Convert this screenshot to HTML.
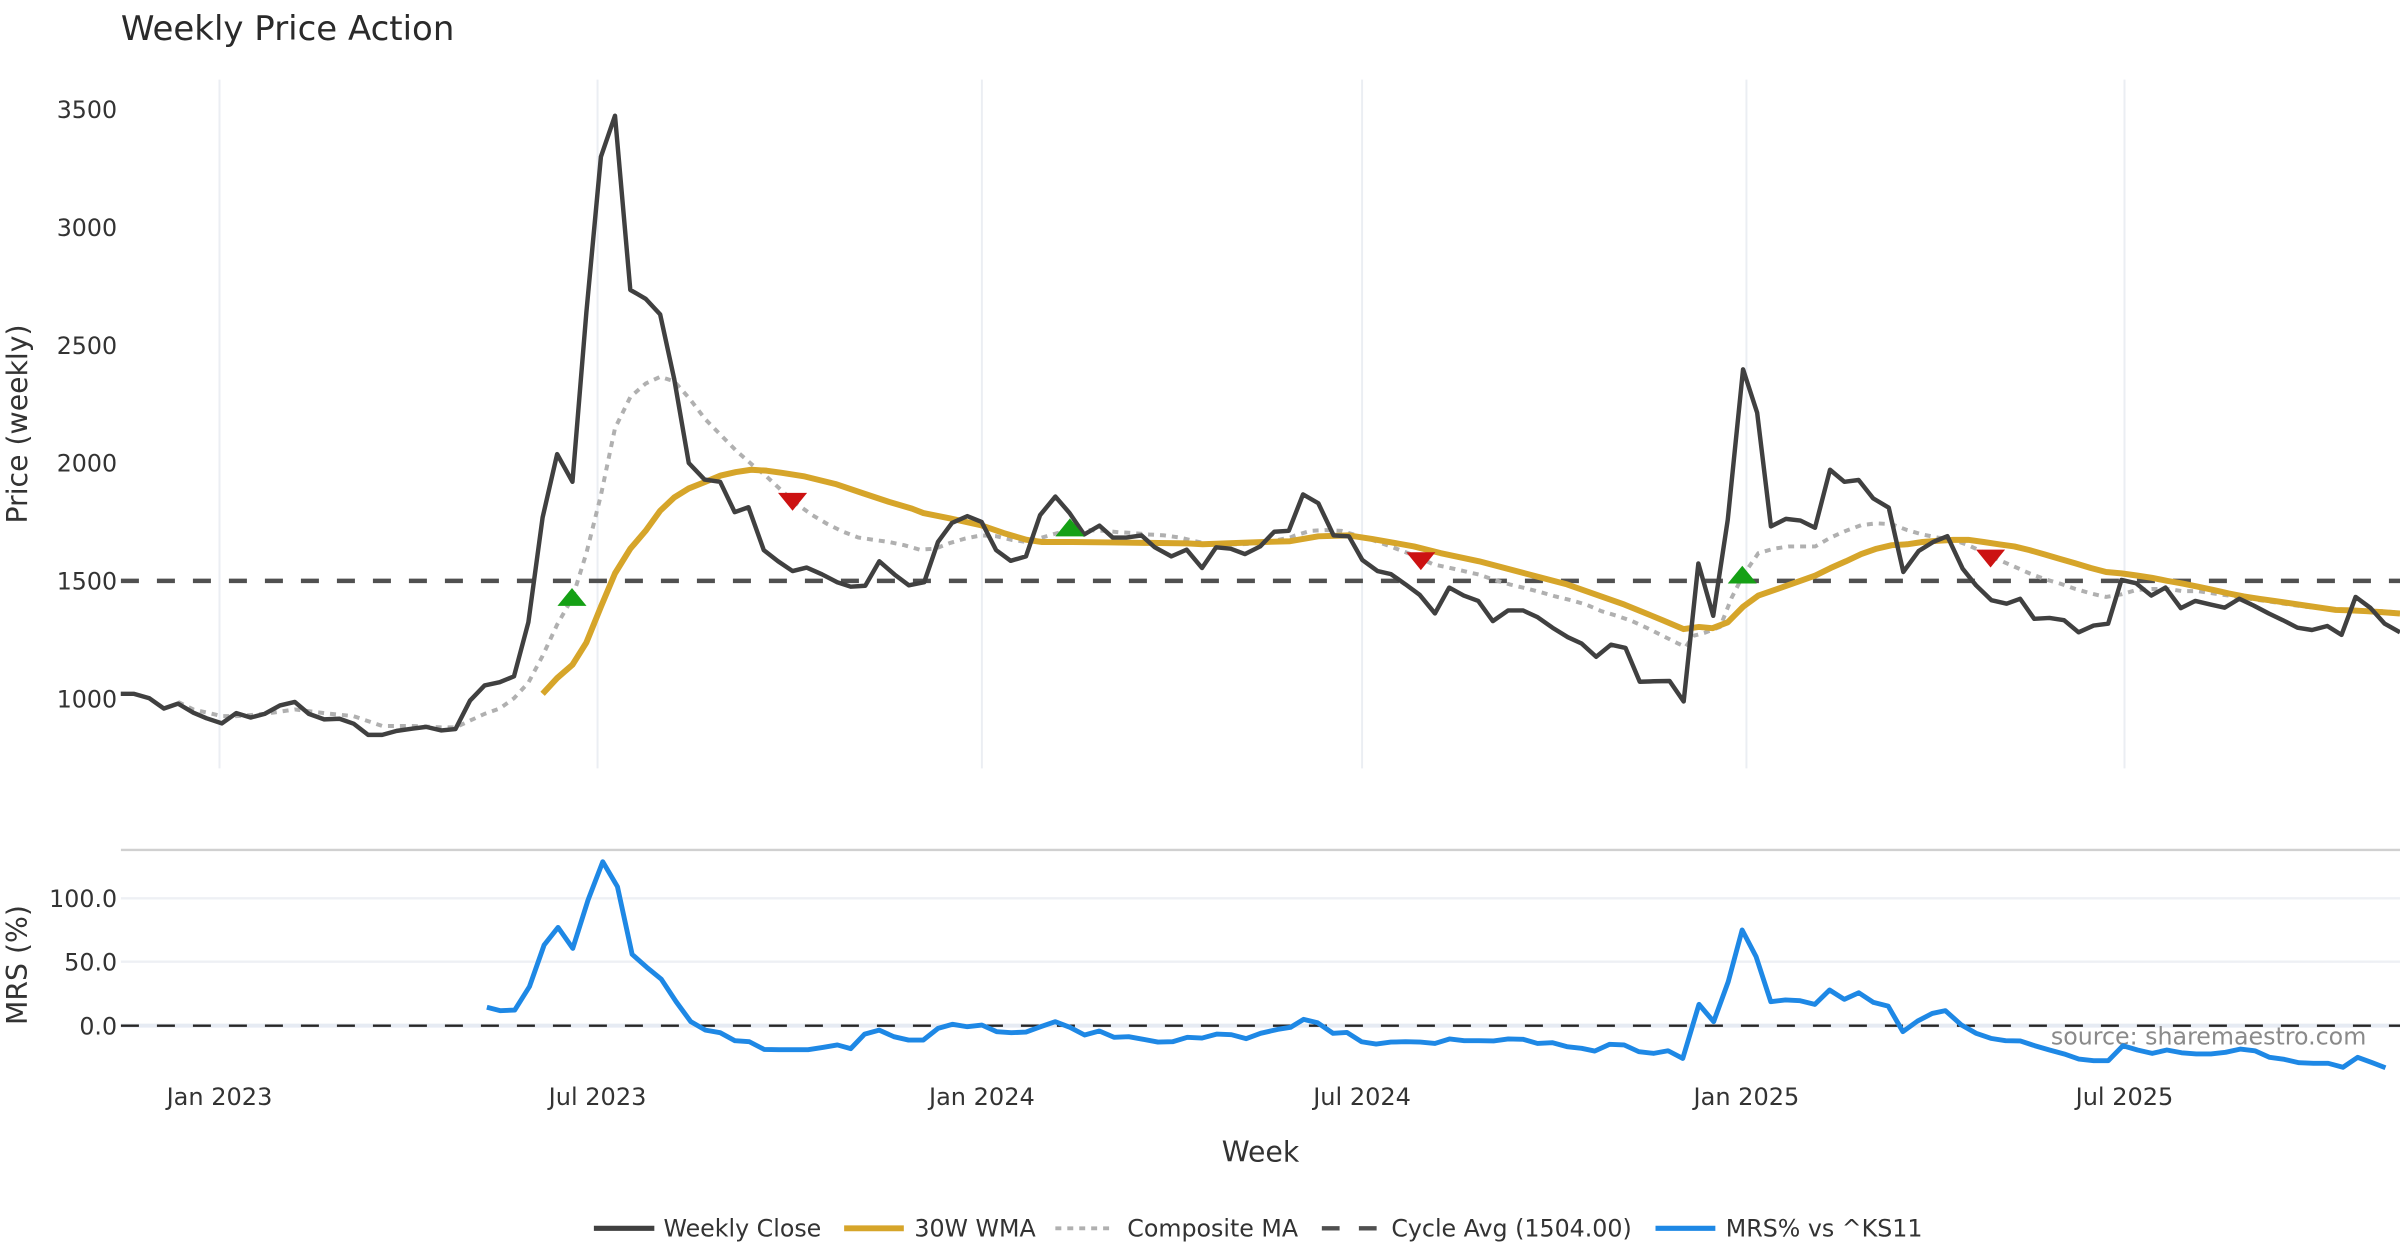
<!DOCTYPE html>
<html><head><meta charset="utf-8"><style>html,body{margin:0;padding:0;background:#fff}svg{display:block}</style></head>
<body>
<svg xmlns="http://www.w3.org/2000/svg" width="2400" height="1260" viewBox="0 0 1568 823.2" preserveAspectRatio="none" font-family="'DejaVu Sans','Liberation Sans',sans-serif">
<rect x="0" y="0" width="1568" height="823.2" fill="#fff"/>
<!-- title -->
<text x="79" y="26" font-size="22.2" fill="#2a2a2a">Weekly Price Action</text>

<!-- price panel vertical gridlines -->
<g stroke="#ebeef3" stroke-width="1.3">
<line x1="143.4" y1="52" x2="143.4" y2="502"/>
<line x1="390.4" y1="52" x2="390.4" y2="502"/>
<line x1="641.5" y1="52" x2="641.5" y2="502"/>
<line x1="889.9" y1="52" x2="889.9" y2="502"/>
<line x1="1141" y1="52" x2="1141" y2="502"/>
<line x1="1388" y1="52" x2="1388" y2="502"/>
</g>

<!-- y tick labels price -->
<g font-size="15.5" fill="#333" text-anchor="end">
<text x="76.5" y="77.2">3500</text>
<text x="76.5" y="154.2">3000</text>
<text x="76.5" y="231.2">2500</text>
<text x="76.5" y="308.2">2000</text>
<text x="76.5" y="385.2">1500</text>
<text x="76.5" y="462.2">1000</text>
</g>
<text transform="translate(17.5,277) rotate(-90)" font-size="18.5" fill="#333" text-anchor="middle">Price (weekly)</text>

<!-- cycle avg dashed -->
<line x1="79" y1="379.5" x2="1568" y2="379.5" stroke="#505050" stroke-width="2.9" stroke-dasharray="11.76 11.76"/>

<!-- composite MA -->
<polyline fill="none" stroke="#b0b0b0" stroke-width="2.6" stroke-dasharray="3.9 3.9" stroke-linejoin="round" points="116.3,458.6 126.3,463.5 145,467.9 154.4,467.9 172.9,466.4 192.6,463.5 211.8,465.9 231,467.9 249.7,474.3 269.2,474.3 288.4,475.2 297.6,475.2 307.1,470.8 316.6,466.4 326.5,462.9 335.8,456.2 345.2,446 354.5,428.5 364,408.1 374,390.6 383.1,361.4 392.6,323.5 401.8,279.8 411.8,259.4 421.8,250.6 431.3,246.2 440.5,249.1 450.8,260.8 460.8,273.9 470.8,284.1 480.8,294.3 490.8,303.1 500.8,311.3 510.8,320.6 520.8,329.4 530.8,336.6 540.8,342.5 550.8,347.4 560.8,351.2 570.8,352.7 580.8,354.1 590.8,356.2 600.8,359.1 610.8,358.5 620.8,354.7 630.8,351.8 640.8,349.8 650.8,350.3 660.8,352.7 670.8,354.1 680.8,351.2 690.8,348.3 700.8,346.8 710.8,346.3 720.8,346.8 730.8,347.7 740.8,348.3 750.8,349.2 760.8,349.8 770.8,351.2 780.8,353.6 790.8,355.6 800.8,355.6 810.8,355.6 820.8,355 830.8,353.6 842.8,351.2 846.3,349.8 856.3,346.8 866.3,346.3 876.3,346.8 886.3,349.8 896.3,352.7 906.3,356.2 916.3,360 926.3,363.8 936.3,368.7 946.3,370.8 956.3,373.1 966.3,375.4 976.3,378.9 986.3,381.8 996.3,384.2 1006.3,386.8 1016.3,389.7 1026.3,392.1 1036.3,395 1046.3,399.3 1056.3,402.3 1066.3,405.8 1076.3,410.4 1086.3,415.4 1096.3,420.4 1101.3,422.7 1106.3,415.4 1113.8,413.4 1123.8,409.6 1131.3,390.6 1138.8,376 1148.8,361.4 1158.8,358.5 1168.8,357 1176.3,357 1186,357 1196,351.2 1206,346.8 1216,343.1 1226,341.9 1236,342.5 1246,346.3 1256,349.2 1266,351.2 1276,352.7 1286,356.2 1296,360.9 1306,365.8 1316,370.2 1326,374.6 1336,378.4 1346,381.3 1356,384.8 1366,387.7 1376,390 1386,388.3 1396,385.4 1406,384.8 1416,384.8 1426,386.2 1436,386.2 1446,387.7 1456,389.1 1466,390.6 1476,392.1 1486,393.5 1496,395 1506,396.4 1516,397.3 1526,398.5 1536,398.8 1546,398.8 1556,399.3 1568,400.2"/>

<!-- 30W WMA -->
<polyline fill="none" stroke="#d6a52a" stroke-width="3.9" stroke-linejoin="round" points="354.5,453.3 364,443 374,434.3 383.1,419.8 392.6,396.4 401.8,374.6 411.8,358.5 421.8,346.8 431.3,333.7 440.5,325 450,319.1 460.8,314.8 470.8,310.7 480.8,308.4 490.8,306.9 500.8,307.5 510.8,308.9 525.8,311.3 545.8,316.2 563.3,322.1 580.8,327.9 595.8,332.3 603.3,335.2 620.8,338.7 640.8,343.1 655.8,348.3 670.8,352.7 680.8,354.1 700.8,354.1 725.8,354.4 750.8,354.7 775.8,355 785.8,355.6 800.8,355 825.8,354.1 842.8,353.6 861.3,350.4 881.3,349.8 896.3,352.1 923.8,357 941.3,361.4 966.3,366.7 996.3,374.6 1023.8,381.8 1061.3,395 1086.3,405.2 1100,411 1110,409.6 1118.8,410.4 1128.8,406.6 1138.8,396.4 1148.8,389.1 1161.3,384.8 1173.8,380.4 1186,376 1196,371.1 1206,366.7 1216,362 1226,358.5 1236,356.2 1246,355.6 1256,354.1 1266,353.3 1276,352.7 1286,352.7 1296,354.1 1306,355.6 1316,357 1326,359.4 1336,362.3 1346,365.2 1356,368.1 1366,371.1 1376,373.7 1386,374.6 1396,376 1406,377.5 1416,379.5 1426,381.3 1436,383.3 1446,385.4 1456,387.7 1466,389.7 1476,391.2 1486,392.6 1496,394.1 1506,395.6 1516,397 1526,398.5 1536,398.8 1546,399.3 1556,399.9 1568,400.8"/>

<!-- Weekly close -->
<polyline fill="none" stroke="#404040" stroke-width="2.9" stroke-linejoin="round" points="78.9,453.3 87.6,453.3 97.6,456.2 107.1,462.9 116.3,459.7 126.3,465.6 135,469.3 145,472.6 154.4,465.9 163.7,468.8 172.9,466.4 182.9,460.9 192.6,458.6 201.8,466.4 211.8,470 221.8,469.6 231,472.8 240.5,480.1 249.7,480.1 259.2,477.5 269.2,476.1 278.4,474.9 288.4,477.2 297.6,476.3 307.1,457.7 316.6,447.8 326.5,445.7 335.8,441.9 345.2,406.6 354.5,338.1 364,296.7 374,314.8 383.1,204 392.6,102.4 401.8,75.6 411.8,189.4 421.8,195.2 431.3,205.4 440.5,247.7 450,302.5 460.3,313.3 470.5,314.8 480,334.6 489,331.4 499,359.4 508.3,366.7 517.8,373.1 527,370.8 537,375.2 547,380.4 555.8,383.3 565.3,382.7 574.5,366.7 584.5,375.4 593.8,382.4 603.8,380.4 612.8,354.1 622,341.6 632,337.2 641.3,341 650.8,359.4 660.3,366.4 670.3,363.5 679.5,336.6 689.5,324.4 698.8,335.2 708.3,349.2 718.3,343.4 727,351.2 735.8,351.2 745.8,349.8 754.5,357.6 765.3,363.5 775.3,359.1 785.3,371.1 794.5,357.6 804,358.5 813.3,362 823.3,357 832.5,347.4 842,346.8 851.3,323 861.3,328.8 871.3,349.8 881.3,350.4 890,365.8 900,373.1 908.8,375.1 918.3,381.8 927.5,388.6 937.5,400.8 946.8,383.9 956.3,389.1 965.8,392.6 975.3,405.8 985.3,398.8 995,398.8 1004.3,403.1 1014.3,410.1 1024.3,416.3 1033.3,420.4 1042.8,429.1 1052.5,421.2 1062,423.3 1071.3,445.4 1080.8,445.1 1090.8,444.9 1100,458.3 1109.6,368.1 1119.3,402.3 1128.8,339.6 1138.8,241.3 1148,269.6 1157,343.9 1166.8,339 1176.3,340.1 1185.8,344.8 1195.6,306.9 1205,314.8 1214.3,313.6 1223.8,325.6 1234,331.7 1243.5,373.7 1253.5,360 1263,354.1 1272.3,350.3 1282.3,371.6 1291,382.4 1301,392.1 1311,394.4 1319.8,391.2 1329,404.3 1339,403.7 1348.5,405.2 1358,413.1 1367.8,408.7 1377.3,407.5 1386,378.9 1395.5,381 1405.5,389.1 1414.8,383.9 1424.8,397.3 1434.3,392.6 1444.3,395 1453.5,397 1463,391.2 1472.3,395.6 1482.3,400.8 1491.5,405.2 1501,410.1 1510.5,411.6 1520.5,409 1529.8,414.8 1539,390 1548.5,397 1558,407.5 1568,413.1"/>

<!-- signal markers -->
<g fill="#15a015">
<polygon points="373.7,384.2 364.2,395.8 383.2,395.8"/>
<polygon points="699,338.7 689.5,350.4 708.5,350.4"/>
<polygon points="1138.3,369.6 1128.8,381.2 1147.8,381.2"/>
</g>
<g fill="#cc1212">
<polygon points="508.3,322 527.3,322 517.8,333.7"/>
<polygon points="918.8,360.8 937.8,360.8 928.3,372.5"/>
<polygon points="1291,359.1 1310,359.1 1300.5,370.8"/>
</g>

<!-- separator -->
<line x1="79" y1="555.3" x2="1568" y2="555.3" stroke="#d0d0d0" stroke-width="1.5"/>

<!-- MRS panel grid -->
<g stroke="#eef0f4" stroke-width="1.5">
<line x1="79" y1="586.9" x2="1568" y2="586.9"/>
<line x1="79" y1="628.3" x2="1568" y2="628.3"/>
</g>
<line x1="79" y1="670.1" x2="1568" y2="670.1" stroke="#e6ebf3" stroke-width="2.6"/>
<line x1="79" y1="670.1" x2="1568" y2="670.1" stroke="#262626" stroke-width="1.6" stroke-dasharray="11.76 11.76"/>

<g font-size="15.5" fill="#333" text-anchor="end">
<text x="76.5" y="592.6">100.0</text>
<text x="76.5" y="634">50.0</text>
<text x="76.5" y="675.8">0.0</text>
</g>
<text transform="translate(17.5,630.5) rotate(-90)" font-size="18.5" fill="#333" text-anchor="middle">MRS (%)</text>

<!-- source annotation -->
<text x="1546" y="682.5" font-size="15.5" fill="#8a8a8a" text-anchor="end">source: sharemaestro.com</text>

<!-- MRS line -->
<polyline fill="none" stroke="#1e88e5" stroke-width="3.2" stroke-linejoin="round" points="318.1,658.1 326.7,660.3 336.3,659.9 345.9,644.6 355.5,617.4 364.6,605.9 374.2,619.6 384.2,588 393.8,563 403.4,579.3 413,623.5 422.6,632 432.1,639.8 441.7,654.4 451.3,667.5 460.9,673 470.5,674.7 480.1,679.9 489.6,680.6 499.2,685.6 508.8,685.8 518.4,685.8 528,685.8 537.5,684.3 547.1,682.7 555.8,685.1 564.9,675.6 574.4,673 584,677.3 593.6,679.5 603.2,679.5 612.8,671.9 622.4,669.2 632,670.8 641.5,669.7 651.1,674 660.7,674.7 670.3,674.3 679.9,670.8 689.4,667.5 699,671.2 708.6,676.2 718.2,673.6 727.8,677.7 737.4,677.3 746.9,679 756.5,680.8 766.1,680.6 775.7,677.7 785.3,678.2 794.9,675.6 804.5,676 814.1,678.6 823.6,675.1 834.9,672.5 843.1,671.2 851.7,666 860.8,668.2 870.9,675.1 880,674.5 889.5,680.6 899.1,682.1 908.7,680.8 918.3,680.6 927.9,680.8 937.5,681.7 947,678.8 956.6,679.9 966.2,679.9 975.8,680.1 985.4,678.8 995,679 1004.5,681.7 1014.1,681.2 1023.7,683.8 1033.3,684.9 1041.9,686.7 1051.5,682.3 1061.1,682.7 1070.7,687.1 1080.3,688.2 1089.8,686.5 1099.4,691.5 1110,656.2 1119.6,667.5 1129.1,641.4 1138.2,607.6 1147.3,625 1156.9,654.4 1166.5,653.3 1176.1,653.8 1185.7,656.2 1195.3,646.8 1204.9,652.9 1214.4,648.6 1224,654.9 1233.6,657.3 1243.2,674 1252.8,667.1 1262.4,662.1 1271,660.3 1281.5,669.7 1291.1,675.1 1300.7,678.4 1310.3,679.9 1319.9,680.1 1329.4,683.2 1339,686 1348.6,688.6 1358.2,691.9 1367.8,693 1377.4,693 1387,683.2 1396.5,686 1406.1,688.2 1415.7,686 1425.3,687.8 1434.9,688.6 1444.5,688.6 1454,687.5 1463.6,685.4 1473.2,686.5 1482.8,690.8 1492.4,692.1 1502,694.3 1511.5,694.7 1521.1,694.7 1530.7,697.3 1540.3,690.8 1549.9,694.3 1558.5,697.6"/>

<!-- x tick labels -->
<g font-size="15.7" fill="#333" text-anchor="middle">
<text x="143.4" y="722">Jan 2023</text>
<text x="390.4" y="722">Jul 2023</text>
<text x="641.5" y="722">Jan 2024</text>
<text x="889.9" y="722">Jul 2024</text>
<text x="1141" y="722">Jan 2025</text>
<text x="1388" y="722">Jul 2025</text>
</g>
<text x="823.5" y="759" font-size="18.5" fill="#333" text-anchor="middle">Week</text>

<!-- legend -->
<line x1="388" y1="802.5" x2="427.5" y2="802.5" stroke="#404040" stroke-width="3.4"/>
<text x="433.5" y="808" font-size="15.5" fill="#333">Weekly Close</text>
<line x1="551.5" y1="802.5" x2="590.5" y2="802.5" stroke="#d6a52a" stroke-width="3.9"/>
<text x="597.4" y="808" font-size="15.5" fill="#333">30W WMA</text>
<line x1="689.5" y1="802.5" x2="727.5" y2="802.5" stroke="#b0b0b0" stroke-width="2.6" stroke-dasharray="3.9 3.9"/>
<text x="736.5" y="808" font-size="15.5" fill="#333">Composite MA</text>
<line x1="863.6" y1="802.5" x2="900" y2="802.5" stroke="#505050" stroke-width="2.9" stroke-dasharray="11.6 12.6"/>
<text x="909" y="808" font-size="15.5" fill="#333">Cycle Avg (1504.00)</text>
<line x1="1081.6" y1="802.5" x2="1120.7" y2="802.5" stroke="#1e88e5" stroke-width="3.4"/>
<text x="1127.5" y="808" font-size="15.5" fill="#333">MRS% vs ^KS11</text>
</svg>
</body></html>
